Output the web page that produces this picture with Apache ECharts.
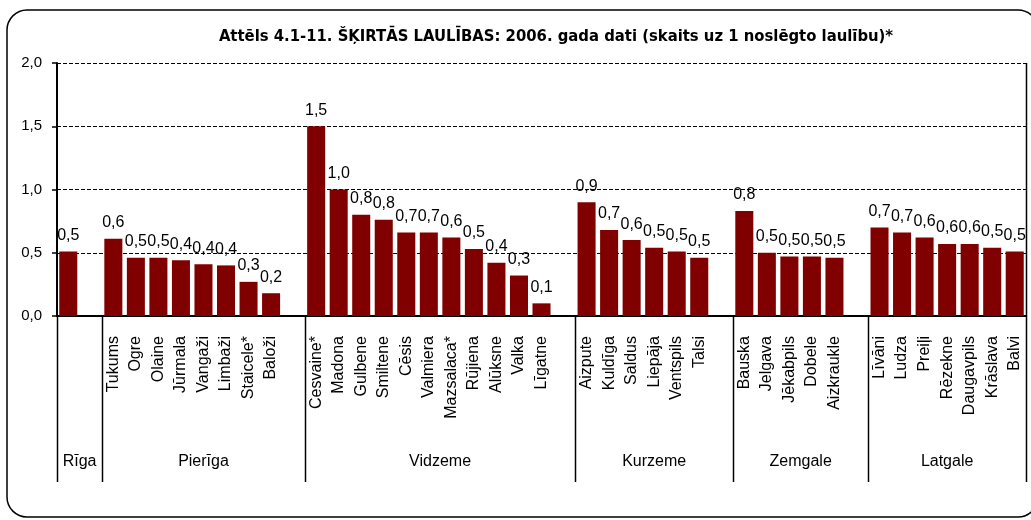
<!DOCTYPE html>
<html>
<head>
<meta charset="utf-8">
<script src="https://cdn.jsdelivr.net/npm/echarts@6/dist/echarts.min.js"></script>
<style>
html,body{margin:0;padding:0;background:#fff;}
#main{width:1031px;height:520px;}
</style>
</head>
<body>
<div id="main"></div>
<script>
// ---- data ----
const regions = ['Rīga', 'Pierīga', 'Vidzeme', 'Kurzeme', 'Zemgale', 'Latgale'];
const rigaCities = ['Rīga'];
const rigaValues = [0.51];
const pierigaCities = ['Tukums', 'Ogre', 'Olaine', 'Jūrmala', 'Vangaži', 'Limbaži', 'Staicele*', 'Baloži'];
const pierigaValues = [0.61, 0.46, 0.46, 0.44, 0.41, 0.40, 0.27, 0.18];
const vidzemeCities = ['Cesvaine*', 'Madona', 'Gulbene', 'Smiltene', 'Cēsis', 'Valmiera', 'Mazsalaca*', 'Rūjiena', 'Alūksne', 'Valka', 'Līgatne'];
const vidzemeValues = [1.50, 1.00, 0.80, 0.76, 0.66, 0.66, 0.62, 0.53, 0.42, 0.32, 0.10];
const kurzemeCities = ['Aizpute', 'Kuldīga', 'Saldus', 'Liepāja', 'Ventspils', 'Talsi'];
const kurzemeValues = [0.90, 0.68, 0.60, 0.54, 0.51, 0.46];
const zemgaleCities = ['Bauska', 'Jelgava', 'Jēkabpils', 'Dobele', 'Aizkraukle'];
const zemgaleValues = [0.83, 0.50, 0.47, 0.47, 0.46];
const latgaleCities = ['Līvāni', 'Ludza', 'Preiļi', 'Rēzekne', 'Daugavpils', 'Krāslava', 'Balvi'];
const latgaleValues = [0.70, 0.66, 0.62, 0.57, 0.57, 0.54, 0.51];
const yTicks = [0, 0.5, 1.0, 1.5, 2.0];
const titleText = 'Attēls 4.1-11. ŠĶIRTĀS LAULĪBAS: 2006. gada dati (skaits uz 1 noslēgto laulību)*';

// ---- build flattened axis (one blank slot after each group except the last) ----
const groupCities = [rigaCities, pierigaCities, vidzemeCities, kurzemeCities, zemgaleCities, latgaleCities];
const groupValues = [rigaValues, pierigaValues, vidzemeValues, kurzemeValues, zemgaleValues, latgaleValues];
const categories = [];
const values = [];
const groupStart = [];
const groupEnd = [];
groupCities.forEach((cities, g) => {
  groupStart.push(categories.length);
  cities.forEach((c, i) => { categories.push(c); values.push(groupValues[g][i]); });
  if (g < groupCities.length - 1) { categories.push(''); values.push('-'); }
  groupEnd.push(categories.length); // exclusive
});

const FONT = "'Liberation Sans', Arial, sans-serif";
const chart = echarts.init(document.getElementById('main'), null, { renderer: 'canvas' });

const option = {
  animation: false,
  backgroundColor: '#fff',
  title: {
    text: titleText,
    left: 551,
    top: 23,
    textAlign: 'center',
    textStyle: {
      fontFamily: "'Liberation Sans Narrow', 'Arial Narrow', 'DejaVu Sans Condensed', sans-serif",
      fontWeight: 'bold',
      fontSize: 16.5,
      color: '#000'
    }
  },
  grid: { left: 57, right: 5, top: 63, bottom: 204, containLabel: false },
  xAxis: {
    type: 'category',
    data: categories,
    boundaryGap: true,
    axisLine: { show: true, lineStyle: { color: '#000', width: 2 } },
    axisTick: { show: false },
    axisLabel: {
      interval: 0,
      rotate: 90,
      margin: 20,
      fontFamily: FONT,
      fontSize: 16,
      color: '#000',
      // a single-city region (Rīga) is named only by its region label
      formatter: v => (regions.indexOf(v) >= 0 ? '' : v)
    },
    splitLine: { show: false }
  },
  yAxis: {
    type: 'value',
    min: yTicks[0],
    max: yTicks[yTicks.length - 1],
    interval: 0.5,
    axisLine: { show: true, lineStyle: { color: '#000', width: 2 } },
    axisTick: { show: true, length: 5, lineStyle: { color: '#000', width: 1.5 } },
    axisLabel: {
      margin: 15,
      fontFamily: FONT,
      fontSize: 15,
      color: '#000',
      formatter: v => v.toFixed(1).replace('.', ',')
    },
    splitLine: { show: true, lineStyle: { color: '#000', type: [4, 2], width: 1 } }
  },
  series: [{
    type: 'bar',
    data: values,
    barCategoryGap: '20%',
    itemStyle: { color: '#800000' },
    label: {
      show: true,
      position: 'top',
      distance: 8,
      fontFamily: FONT,
      fontSize: 16,
      color: '#000',
      formatter: p => (typeof p.value === 'number' ? p.value.toFixed(1).replace('.', ',') : '')
    }
  }]
};
chart.setOption(option);

// ---- group separators, group names, frame (positions from the axis scale) ----
const px = i => chart.convertToPixel({ xAxisIndex: 0 }, i);
const slotW = px(1) - px(0);
const edgeX = i => px(i) - slotW / 2;      // left boundary of slot i
const yZero = chart.convertToPixel({ yAxisIndex: 0 }, 0);
const yTop = chart.convertToPixel({ yAxisIndex: 0 }, yTicks[yTicks.length - 1]);
const yBottom = 482;
const graphics = [];
const boundaries = [edgeX(0)].concat(groupEnd.map(e => edgeX(e)));
boundaries.forEach((bx, k) => {
  const isLast = k === boundaries.length - 1;
  graphics.push({
    type: 'line',
    shape: { x1: Math.round(bx) + 0.5, y1: isLast ? yTop : yZero, x2: Math.round(bx) + 0.5, y2: yBottom },
    style: { stroke: '#000', lineWidth: 1.5 },
    silent: true
  });
});
regions.forEach((r, g) => {
  const cx = (edgeX(groupStart[g]) + edgeX(groupEnd[g])) / 2;
  graphics.push({
    type: 'text',
    x: cx, y: 462,
    style: { text: r, fontFamily: FONT, fontSize: 16, fill: '#000', align: 'center', verticalAlign: 'middle' },
    silent: true
  });
});
graphics.push({
  type: 'rect',
  shape: { x: 7, y: 10, width: 1031, height: 507, r: 20 },
  style: { fill: 'none', stroke: '#000', lineWidth: 1.5 },
  silent: true,
  z: -1
});
chart.setOption({ graphic: graphics });
</script>
</body>
</html>
